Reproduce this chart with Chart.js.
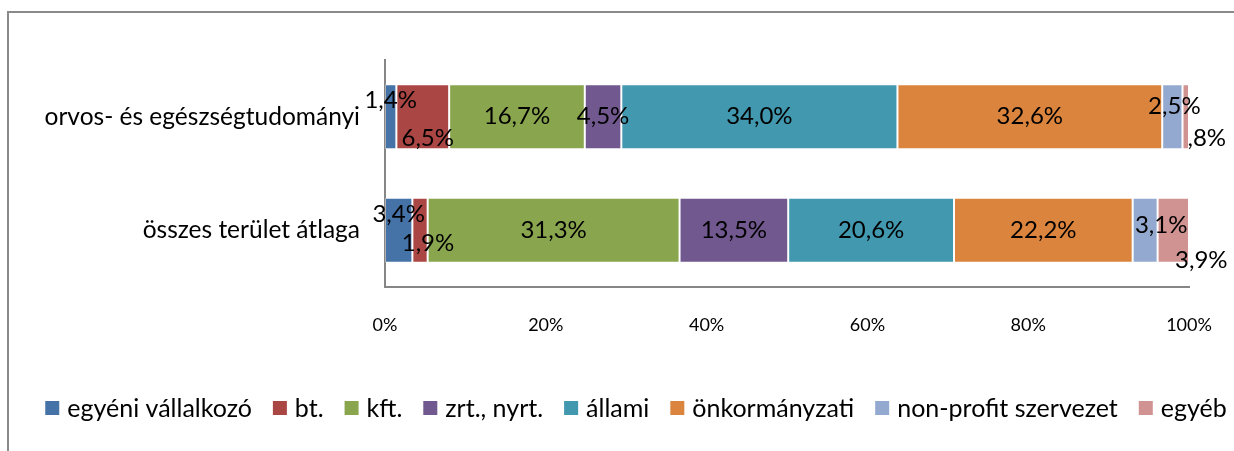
<!DOCTYPE html>
<html lang="hu">
<head>
<meta charset="utf-8">
<script src="https://cdn.jsdelivr.net/npm/chart.js@4/dist/chart.umd.min.js"></script>
<style>
  html, body { margin: 0; padding: 0; background: #fff; }
</style>
</head>
<body>
<canvas id="chart" width="1234" height="451"></canvas>
<script>
// Kategóriák és sorozatok (százalék)
const categories = ['orvos- és egészségtudományi', 'összes terület átlaga'];
const seriesNames = ['egyéni vállalkozó', 'bt.', 'kft.', 'zrt., nyrt.', 'állami', 'önkormányzati', 'non-profit szervezet', 'egyéb'];

const egyeni = [1.4, 3.4];
const bt = [6.5, 1.9];
const kft = [16.7, 31.3];
const zrt = [4.5, 13.5];
const allami = [34.0, 20.6];
const onkormanyzati = [32.6, 22.2];
const nonprofit = [2.5, 3.1];
const egyeb = [0.8, 3.9];

const xTicks = [0, 20, 40, 60, 80, 100];

const series = [egyeni, bt, kft, zrt, allami, onkormanyzati, nonprofit, egyeb];
const colors = ['#4572A7', '#AA4643', '#89A54E', '#71588F', '#4198AF', '#DB843D', '#93A9CF', '#D19392'];

// felirat eltolások [dx, dy] sorozatonként, kategóriánként
const labelShift = [
  [[0, -16], [0, -16]],
  [[5, 22], [8, 13]],
  [[0, 0], [0, 0]],
  [[0, 0], [0, 0]],
  [[0, 0], [0, 0]],
  [[0, 0], [0, 0]],
  [[2, -10], [16, -5]],
  [[21, 22], [28, 30]]
];

// 100%-os halmozás: soronkénti összegre vetítve
const rowTotals = categories.map((_, j) => series.reduce((s, arr) => s + arr[j], 0));

const fmt = v => v.toFixed(1).replace('.', ',').replace(/^0/, '') + '%';

const frame = {
  id: 'frame',
  beforeDraw(chart) {
    const ctx = chart.ctx;
    ctx.save();
    ctx.strokeStyle = '#8a8a8a';
    ctx.lineWidth = 2;
    ctx.beginPath();
    ctx.moveTo(8, chart.height);
    ctx.lineTo(8, 12);
    ctx.lineTo(chart.width, 12);
    ctx.stroke();
    ctx.restore();
  }
};

const barLabels = {
  id: 'barLabels',
  afterDatasetsDraw(chart) {
    const ctx = chart.ctx;
    ctx.save();
    ctx.font = '24px Lato';
    ctx.fillStyle = '#000';
    ctx.textAlign = 'center';
    ctx.textBaseline = 'middle';
    chart.data.datasets.forEach((ds, i) => {
      chart.getDatasetMeta(i).data.forEach((el, j) => {
        const c = el.getCenterPoint();
        const [dx, dy] = labelShift[i][j];
        ctx.fillText(fmt(series[i][j]), c.x + dx, c.y + dy);
      });
    });
    ctx.restore();
  }
};

// egysoros jelmagyarázat: kis négyzet + szöveg, középre igazítva
const legendRow = {
  id: 'legendRow',
  afterDraw(chart) {
    const ctx = chart.ctx;
    const box = 14, gap = 8, spacing = 21, cx = 636, cy = 408;
    ctx.save();
    ctx.font = '25px Lato';
    ctx.textBaseline = 'middle';
    ctx.textAlign = 'left';
    const items = chart.data.datasets.map(ds => ({ text: ds.label, color: ds.backgroundColor, w: ctx.measureText(ds.label).width }));
    const total = items.reduce((s, it) => s + box + gap + it.w, 0) + spacing * (items.length - 1);
    let x = cx - total / 2;
    items.forEach(it => {
      ctx.fillStyle = it.color;
      ctx.fillRect(x, cy - box / 2, box, box);
      ctx.fillStyle = '#000';
      ctx.fillText(it.text, x + box + gap, cy + 1);
      x += box + gap + it.w + spacing;
    });
    ctx.restore();
  }
};

new Chart(document.getElementById('chart'), {
  type: 'bar',
  data: {
    labels: categories,
    datasets: series.map((arr, i) => ({
      label: seriesNames[i],
      data: arr.map((v, j) => v / rowTotals[j] * 100),
      backgroundColor: colors[i],
      borderColor: 'rgba(255,255,255,0.35)',
      borderWidth: 1,
      borderSkipped: false,
      barPercentage: 0.573,
      categoryPercentage: 1
    }))
  },
  options: {
    indexAxis: 'y',
    responsive: false,
    animation: false,
    layout: { padding: { top: 60, left: 0, right: 0, bottom: 72 } },
    plugins: {
      tooltip: { enabled: false },
      legend: { display: false }
    },
    scales: {
      x: {
        stacked: true,
        min: 0,
        max: 100,
        afterBuildTicks(scale) { scale.ticks = xTicks.map(v => ({ value: v })); },
        grid: { display: false, drawTicks: false },
        border: { display: true, color: '#868686', width: 2 },
        ticks: {
          color: '#000',
          font: { family: 'Lato', size: 18 },
          padding: 27,
          maxRotation: 0,
          callback: v => v + '%'
        },
        afterFit(scale) {
          scale.height = 92;
          scale.paddingRight = 45;
        }
      },
      y: {
        stacked: true,
        grid: { display: false, drawTicks: false },
        border: { display: true, color: '#868686', width: 2 },
        ticks: {
          color: '#000',
          font: { family: 'Lato', size: 24.5 },
          padding: 25
        },
        afterFit(scale) { scale.width = 385; }
      }
    }
  },
  plugins: [frame, barLabels, legendRow]
});
</script>
</body>
</html>
